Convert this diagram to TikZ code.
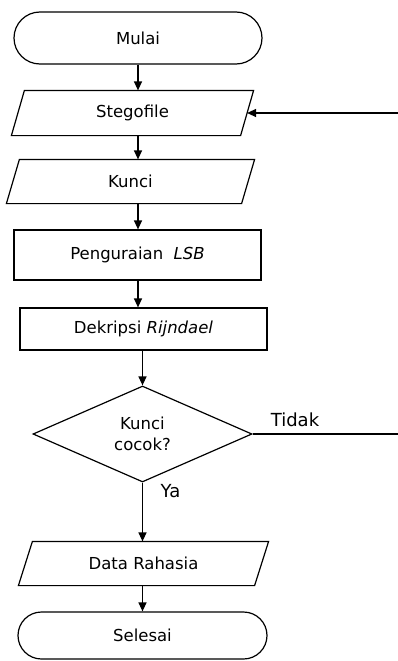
\documentclass[tikz,border=0pt]{standalone}
\usepackage{fontspec}
\setmainfont{DejaVu Sans}
\usetikzlibrary{shapes.misc,shapes.geometric,arrows.meta}
\newcommand\drawpara[2]{%
  \draw[ln] ([xshift=#2]#1.north west) -- ([xshift=#2]#1.north east)
    -- ([xshift=-#2]#1.south east) -- ([xshift=-#2]#1.south west) -- cycle;}
\begin{document}
\begin{tikzpicture}[x=1pt,y=-1pt,
  base/.style={font=\fontsize{16.5}{20}\selectfont, line width=1.2pt, inner sep=0pt},
  term/.style={base, draw, rounded rectangle},
  io/.style={base, rectangle},
  proc/.style={base, draw, rectangle},
  decis/.style={base, draw, diamond, align=center},
  arr/.style={line width=1.2pt, -{Triangle[length=9pt,width=8pt]}},
  ln/.style={line width=1.2pt},
  lbl/.style={font=\fontsize{18}{21}\selectfont}]
\useasboundingbox (0,0) rectangle (398,661);

\node[term, minimum width=248pt, minimum height=52pt] (mulai) at (138,38) {Mulai};
\node[io, minimum width=228pt, minimum height=44pt] (stego) at (132.5,113) {Stegofile};
\node[io, minimum width=234pt, minimum height=43pt] (kunci) at (130.5,181.5) {Kunci};
\node[proc, minimum width=247pt, minimum height=50pt] (peng) at (137.5,255) {Penguraian\ \ \textit{LSB}};
\node[proc, minimum width=247pt, minimum height=42pt] (dek) at (143.5,329) {Dekripsi \textit{Rijndael}};
\node[decis, minimum width=219pt, minimum height=96pt] (cek) at (142.5,434) {Kunci\\[1pt]cocok?};
\node[io, minimum width=235pt, minimum height=43pt] (data) at (143.5,563.5) {Data Rahasia};
\node[term, minimum width=249pt, minimum height=47pt] (selesai) at (142.5,635.5) {Selesai};

\drawpara{stego}{6.5pt}
\drawpara{kunci}{6.5pt}
\drawpara{data}{7pt}

\coordinate (back) at (398,113);
\coordinate (tidakend) at (398,434);

\draw[arr] (mulai.south) -- (mulai.south |- stego.north);
\draw[arr] (stego.south -| mulai) -- (kunci.north -| mulai);
\draw[arr] (kunci.south -| mulai) -- (peng.north -| mulai);
\draw[arr] (peng.south -| mulai) -- (dek.north -| mulai);
\draw[arr] (dek.south -| cek) -- (cek.north);
\draw[arr] (cek.south) -- (cek.south |- data.north);
\draw[arr] (data.south -| cek) -- (selesai.north -| cek);
\draw[arr] (back) -- (stego.east);
\draw[ln] (cek.east) -- (tidakend);

\node[lbl] (tidak) at (295,420) {Tidak};
\node[lbl] (ya) at (170.5,491) {Ya};
\end{tikzpicture}
\end{document}
